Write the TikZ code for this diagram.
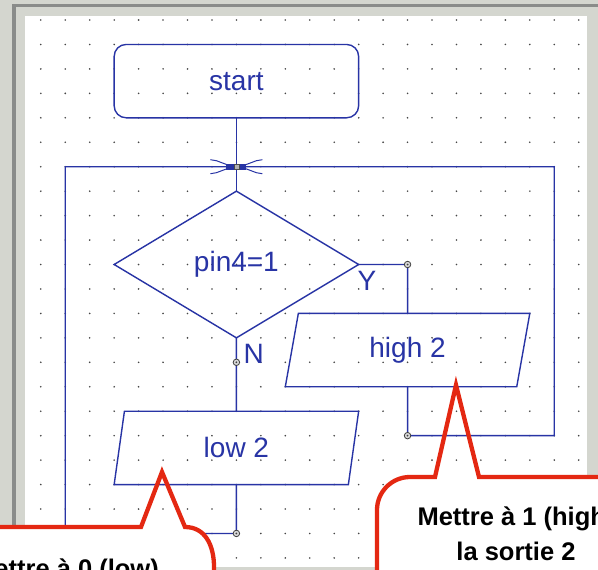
\documentclass[tikz,border=0pt]{standalone}
\usepackage{fontspec}
\setmainfont{Liberation Sans}
\usepackage{tikz}
\usetikzlibrary{shapes.geometric}

\definecolor{fcblue}{RGB}{40,52,165}
\definecolor{callred}{RGB}{228,40,18}
\definecolor{panelgray}{RGB}{212,214,207}
\definecolor{edgegray}{RGB}{138,140,138}
\definecolor{dotgray}{RGB}{70,70,70}

\tikzset{
  fc/.style={draw=fcblue, line width=1.4pt, text=fcblue, font=\fontsize{28}{30}\selectfont, inner sep=0pt, outer sep=0pt},
  startbox/.style={fc, rectangle, rounded corners=12pt, minimum width=244.5pt, minimum height=73.35pt},
  decision/.style={fc, diamond, minimum width=244.5pt, minimum height=146.7pt},
  iobox/.style={fc, trapezium, trapezium left angle=63.43, trapezium right angle=116.57, trapezium stretches body, minimum width=244.5pt, minimum height=73.35pt},
  link/.style={draw=fcblue, line width=1.4pt},
  branch/.style={text=fcblue, font=\fontsize{28}{30}\selectfont, inner sep=0pt},
  joint/.style={circle, draw=black!75, fill=black!15, line width=0.8pt, minimum size=6.5pt, inner sep=0pt},
  jsquare/.style={rectangle, draw=black!70, fill=black!30, line width=0.6pt, minimum size=5pt, inner sep=0pt},
  callout/.style={draw=callred, line width=4.3pt},
  callouttext/.style={font=\bfseries\fontsize{25.5}{35}\selectfont, align=center, inner sep=0pt},
}

\begin{document}
\begin{tikzpicture}[x=1pt, y=-1pt]
  \useasboundingbox (0,0) rectangle (598,570);
  \clip (0,0) rectangle (598,570);

  % window frame
  \fill[panelgray] (0,0) rectangle (598,570);
  \fill[edgegray] (12,3.5) rectangle (598,6.5);
  \fill[edgegray] (12,3.5) rectangle (15.5,570);
  \fill[white] (25,16) rectangle (587,567);

  \begin{scope}[shift={(40.8pt,-20pt)}, x=24.45pt, y=-24.45pt]
    % grid dots
    \foreach \i in {0,...,22}
      \foreach \j in {0,...,22}
        \fill[dotgray] (\i,\j) circle (0.9pt);

    \node[startbox] (start) at (8,2.5) {start};
    \node[decision] (test) at (8,10) {pin4=1};
    \node[iobox] (high) at (15,13.5) {high 2};
    \node[iobox] (low) at (8,17.5) {low 2};

    \coordinate (jn) at (8,6);
    \coordinate (ypt) at (15,10);
    \coordinate (npt) at (8,14);
    \coordinate (hpt) at (15,17);
    \coordinate (lpt) at (8,21);
    \coordinate (rtop) at (21,6);
    \coordinate (ltop) at (1,6);

    \draw[link] (start) -- (jn) -- (test);
    \draw[link] (test.east) -- (ypt) -- (high.north);
    \draw[link] (test.south) -- (npt) -- (low.north);
    \draw[link] (high.south) -- (hpt) -| (rtop) -- (jn);
    \draw[link] (low.south) -- (lpt) -| (ltop) -- (jn);

    % merge mark
    \fill[fcblue] ([shift={(-10pt,-3pt)}]jn) rectangle ([shift={(10pt,3pt)}]jn);
    \foreach \s in {-1,1}
      \foreach \t in {-1,1}
        \draw[fcblue, line width=1pt] ([shift={(\s*26pt,\t*7pt)}]jn) -- ([shift={(\s*20pt,\t*6pt)}]jn) -- ([shift={(\s*8pt,\t*1.5pt)}]jn);
    \node[jsquare] (jmark) at (jn) {};

    \foreach \p in {ypt,npt,hpt,lpt}{
      \node[joint] (j-\p) at (\p) {};
      \fill[black!75] (\p) circle (1pt);
    }

    \node[branch] (ylab) at (13.34,10.67) {Y};
    \node[branch] (nlab) at (8.71,13.66) {N};
  \end{scope}

  % callouts
  \fill[white] (377,620) -- (377,510) .. controls (377,491.8) and (391.8,477) .. (410,477) -- (640,477) -- (640,620) -- cycle;
  \draw[callout] (377,620) -- (377,510) .. controls (377,491.8) and (391.8,477) .. (410,477) -- (435,477) -- (456,385) -- (479,477) -- (640,477);
  \node[callouttext, anchor=base] (hightxt) at (516,560) {Mettre à 1 (high)\\la sortie 2};

  \fill[white] (-20,527) -- (185,527) .. controls (205,527) and (214,545) .. (214,567) -- (214,620) -- (-20,620) -- cycle;
  \draw[callout] (-20,527) -- (141,527) -- (162,472) -- (185,527) .. controls (205,527) and (214,545) .. (214,567) -- (214,620);
  \node[callouttext, anchor=base] (lowtxt) at (66,577) {Mettre à 0 (low)};
\end{tikzpicture}
\end{document}
